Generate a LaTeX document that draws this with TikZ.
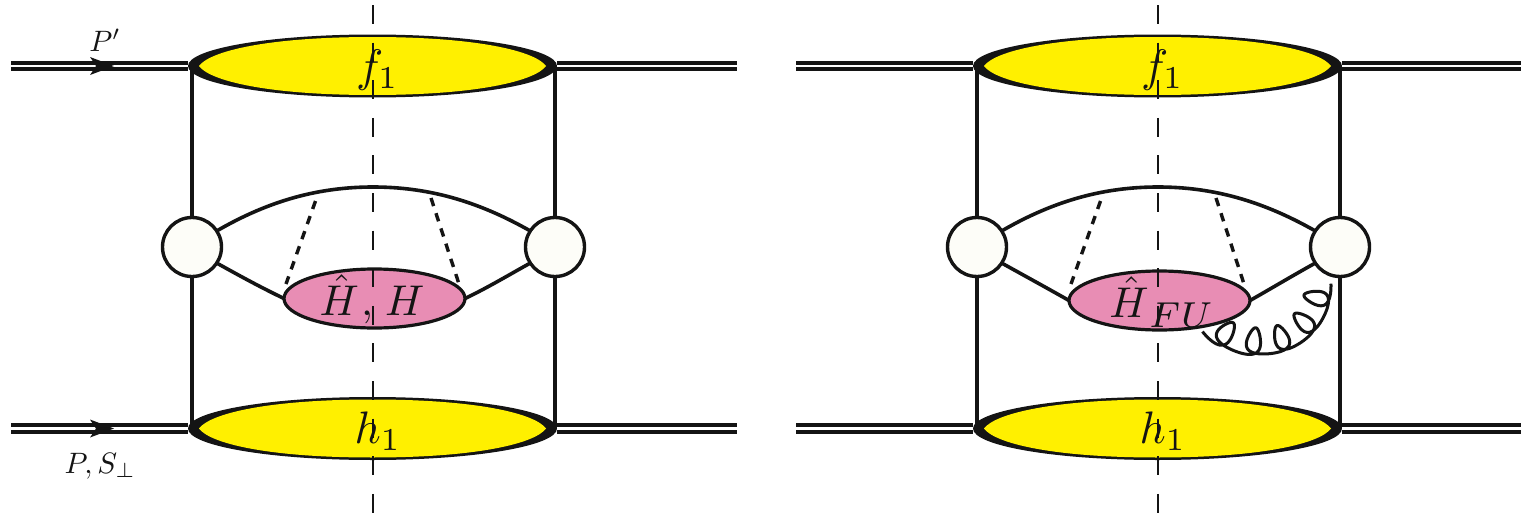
\documentclass[tikz,border=0pt]{standalone}
\usetikzlibrary{shapes.geometric}
\definecolor{lensyellow}{HTML}{FFF000}
\definecolor{softpink}{HTML}{E88DB4}
\definecolor{blobwhite}{HTML}{FDFDF8}
\definecolor{inkblack}{HTML}{141414}
\tikzset{
  lensout/.style={shape=ellipse,fill=inkblack,draw=none,minimum width=369,minimum height=63,inner sep=0,outer sep=0},
  blob/.style={shape=circle,fill=blobwhite,draw=inkblack,line width=3.4,minimum size=59,inner sep=0,outer sep=0},
  softblob/.style={shape=ellipse,fill=softpink,draw=inkblack,line width=3.2,minimum width=181,minimum height=59,inner sep=0,outer sep=0},
  quark/.style={draw=inkblack,line width=3.6},
  hadron/.style={draw=inkblack,double=white,line width=3.7,double distance=2.8},
  cutline/.style={draw=inkblack,line width=1.6,dash pattern=on 19pt off 18.6pt},
  gluonline/.style={draw=inkblack,line width=3.4,dash pattern=on 8.5pt off 7.5pt},
  arrowtip/.style={fill=inkblack,draw=none},
  biglabel/.style={inner sep=0,text=inkblack,scale=4.55},
  softlabel/.style={inner sep=0,text=inkblack,scale=4.3},
  smalllabel/.style={inner sep=0,text=inkblack,scale=2.95},
  declare function={gr(\t)=68+0.17*max(0,143-4.615*\t-97)-6.5*(1-cos(\t r))^2;
                    gth(\t)=143-4.615*\t-13.5*sin(\t r);}
}
\newcommand{\lensfill}[1]{%
  \fill[lensyellow] (199,#1) .. controls (210,{#1-15}) and (268,{#1-29}) .. (372.5,{#1-29})
    .. controls (477,{#1-29}) and (535,{#1-15}) .. (546,#1)
    .. controls (535,{#1+15}) and (477,{#1+29}) .. (372.5,{#1+29})
    .. controls (268,{#1+29}) and (210,{#1+15}) .. (199,#1) -- cycle;}
\newcommand{\panel}[3]{%
\begin{scope}[xshift=#2pt]
  \coordinate (#1tlin) at (11,66);
  \coordinate (#1trout) at (737,66);
  \coordinate (#1blin) at (11,428.5);
  \coordinate (#1brout) at (737,428.5);
  \coordinate (#1cuttop) at (373,5);
  \coordinate (#1cutbot) at (373,522);
  \coordinate (#1tl) at (192,66);
  \coordinate (#1tr) at (555,66);
  \coordinate (#1bl) at (192,428.5);
  \coordinate (#1br) at (555,428.5);
  \node[lensout] (#1top) at (372.5,66) {};
  \node[lensout] (#1bot) at (372.5,428.5) {};
  \draw[hadron] (#1tlin) -- (#1top.west);
  \draw[hadron] (#1top.east) -- (#1trout);
  \draw[hadron] (#1blin) -- (#1bot.west);
  \draw[hadron] (#1bot.east) -- (#1brout);
  \lensfill{66}
  \lensfill{428.5}
  \node[blob] (#1L) at (192,247) {};
  \node[blob] (#1R) at (555,247) {};
  \draw[quark] (#1tl) -- (#1L.north);
  \draw[quark] (#1L.south) -- (#1bl);
  \draw[quark] (#1tr) -- (#1R.north);
  \draw[quark] (#1R.south) -- (#1br);
  \node[softblob] (#1soft) at (374.5,#3) {};
  \draw[quark] (#1L.33) .. controls (270,200) and (320,187) .. (373,187) .. controls (426,187) and (476,200) .. (#1R.147);
  \draw[quark] (#1L.-33) .. controls (240,276) and (262,288) .. (#1soft.west);
  \draw[quark] (#1R.-147) .. controls (507,276) and (487,288) .. (#1soft.east);
  \coordinate (#1ga) at (315.5,201);
  \coordinate (#1gb) at (431,198);
  \coordinate (#1gc) at (286,284);
  \coordinate (#1gd) at (459,284);
  \draw[gluonline] (#1ga) -- (#1gc);
  \draw[gluonline] (#1gb) -- (#1gd);
  \draw[cutline] (#1cuttop) -- (#1cutbot);
\end{scope}}
\begin{document}
\begin{tikzpicture}[x=1pt,y=-1pt]
\useasboundingbox (0,0) rectangle (1521,522);
\fill[white] (0,0) rectangle (1521,522);
\panel{a}{0}{298.5}
\panel{b}{785}{300.5}
% arrows on the incoming hadrons
\fill[arrowtip] (90,57) -- (114,66) -- (90,75) -- (96,66) -- cycle;
\fill[arrowtip] (90,419.5) -- (114,428.5) -- (90,437.5) -- (96,428.5) -- cycle;
% labels
\node[smalllabel] (lp) at (105,40) {$P'$};
\node[smalllabel] (lps) at (100,466) {$P,S_\perp$};
\node[biglabel] (lf1) at (377.5,70) {$f_1$};
\node[biglabel] (lh1) at (378,431) {$h_1$};
\node[biglabel] (lff) at (1162.5,70) {$f_1$};
\node[biglabel] (lhh) at (1163,431) {$h_1$};
\node[softlabel] (lhh1) at (372,299) {$\hat H\mskip1mu,\mskip2mu H$};
\node[softlabel] (lhh2) at (1162,302) {$\hat H_{\mskip2mu\mbox{\scalebox{1.2}{$\scriptstyle FU$}}}$};
% gluon
\draw[draw=inkblack,line width=3,line join=round]
  plot[smooth,samples=300,domain=0:31.416,variable=\t]
  ({1263+gr(\t)*cos(gth(\t))},{286+gr(\t)*sin(gth(\t))});
\end{tikzpicture}
\end{document}
